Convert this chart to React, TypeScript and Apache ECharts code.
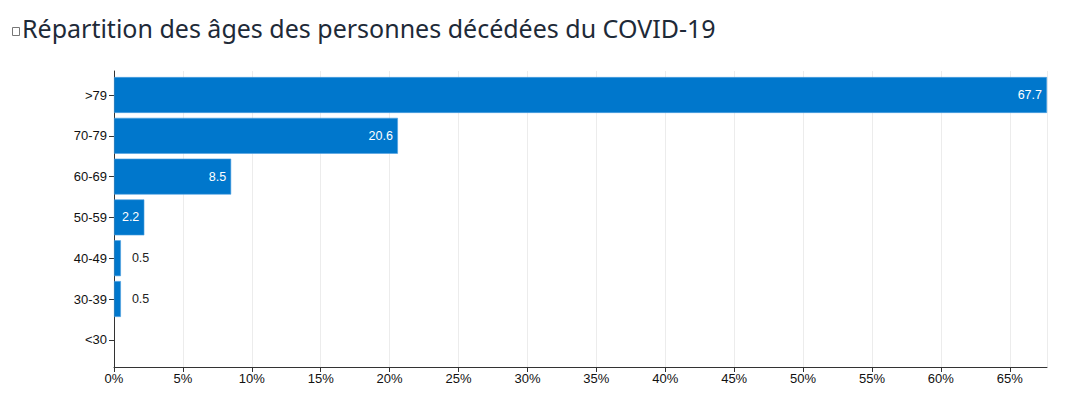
import React, { useEffect, useRef } from "react";
import * as echarts from "echarts";

const categories = [">79", "70-79", "60-69", "50-59", "40-49", "30-39", "<30"];
const values = [67.7, 20.6, 8.5, 2.2, 0.5, 0.5, 0];
const xMax = 67.7;
const titleText = "Répartition des âges des personnes décédées du COVID-19";

export default function App() {
  const ref = useRef<HTMLDivElement>(null);
  useEffect(() => {
    if (!ref.current) return;
    const chart = echarts.init(ref.current, undefined, { renderer: "svg" });
    const data = values.map((v) => {
      if (v === 0)
        return { value: v, label: { show: false }, itemStyle: { borderWidth: 0, opacity: 0 } };
      if (v < 2)
        return {
          value: v,
          label: { show: true, position: "right", distance: 11, color: "#222" },
        };
      return {
        value: v,
        label: { show: true, position: "insideRight", distance: 5, color: "#fff" },
      };
    });
    chart.setOption({
      animation: false,
      title: {
        text: titleText,
        left: 9,
        top: 2,
        textStyle: {
          fontFamily: "Noto Sans",
          fontSize: 25,
          fontWeight: "normal",
          color: "#1e2a38",
        },
      },
      graphic: [
        {
          type: "rect",
          shape: { x: 4.5, y: 19.5, width: 7, height: 8 },
          style: { fill: "none", stroke: "#777", lineWidth: 1 },
        },
      ],
      grid: [
        { left: 106, right: 19, top: 66.6, height: 285.6, containLabel: false },
        { left: 106, right: 19, top: 63, bottom: 41, containLabel: false },
      ],
      xAxis: [
        {
          gridIndex: 0,
          type: "value",
          min: 0,
          max: xMax,
          show: false,
        },
        {
          gridIndex: 1,
          type: "value",
          min: 0,
          max: xMax,
          interval: 5,
          axisLine: { show: true, lineStyle: { color: "#333", width: 1 } },
          axisTick: { show: true, length: 5, lineStyle: { color: "#333" } },
          axisLabel: {
            formatter: "{value}%",
            color: "#111",
            fontFamily: "Liberation Sans",
            fontSize: 13,
            margin: 5,
            showMaxLabel: false,
          },
          splitLine: { show: true, lineStyle: { color: "#ececec", width: 1 } },
        },
      ],
      yAxis: [
        {
          gridIndex: 0,
          type: "category",
          data: categories,
          inverse: true,
          axisLine: { show: false },
          axisTick: { show: true, length: 5, alignWithLabel: true, lineStyle: { color: "#333" } },
          axisLabel: {
            color: "#111",
            fontFamily: "Liberation Sans",
            fontSize: 13,
            margin: 7,
          },
        },
        {
          gridIndex: 1,
          type: "value",
          min: 0,
          max: 1,
          axisLine: { show: true, lineStyle: { color: "#333", width: 1 } },
          axisTick: { show: false },
          axisLabel: { show: false },
          splitLine: { show: false },
        },
      ],
      series: [
        {
          type: "bar",
          xAxisIndex: 0,
          yAxisIndex: 0,
          data,
          barCategoryGap: "12%",
          itemStyle: { color: "#0077cc", borderColor: "#4d9fe0", borderWidth: 0.6 },
          label: {
            fontFamily: "Liberation Sans",
            fontSize: 12.5,
          },
        },
      ],
    });
    return () => chart.dispose();
  }, []);
  return <div ref={ref} style={{ width: 1058, height: 400 }} />;
}
